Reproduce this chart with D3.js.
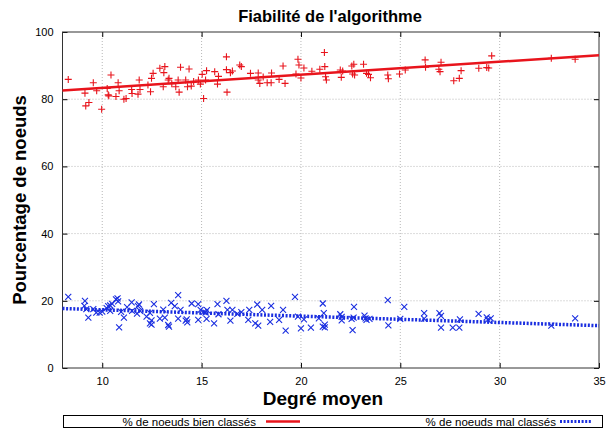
<!DOCTYPE html>
<html>
<head>
<meta charset="utf-8">
<script src="https://cdn.jsdelivr.net/npm/d3@7"></script>
<style>
  body { margin: 0; background: #fff; }
  svg { display: block; font-family: "Liberation Sans", Arial, sans-serif; }
</style>
</head>
<body>
<svg id="chart" width="607" height="431"></svg>
<script>
// degree (x) / percentage (y)
const bienX = [8.29, 9.13, 9.33, 9.17, 9.55, 9.72, 9.97, 10.44, 10.25, 10.3, 10.33, 10.69, 10.8, 10.85, 11.09, 11.2, 11.48, 11.5, 11.86, 11.9,
  11.8, 12.3, 12.48, 12.56, 12.43, 12.9, 13.15, 13.1, 13.07, 13.32, 13.36, 13.5, 13.7, 13.82, 13.87, 13.94, 14.2, 14.29, 14.37, 14.48,
  14.6, 14.84, 14.94, 15.03, 15.2, 15.1, 15.25, 15.66, 15.85, 15.8, 16.25, 16.25, 16.28, 16.45, 16.55, 16.92, 17.0, 17.46, 17.85, 17.85,
  17.93, 18.1, 18.3, 18.52, 18.5, 18.9, 19.1, 19.2, 19.85, 19.9, 19.75, 20.0, 20.15, 20.55, 20.95, 21.18, 21.2, 21.24, 21.28, 21.98,
  22.1, 22.03, 22.56, 22.66, 22.6, 22.7, 23.15, 23.3, 23.4, 23.5, 24.37, 24.4, 24.96, 25.25, 26.25, 26.27, 26.94, 27.05, 27.0, 27.69,
  27.97, 28.06, 28.95, 29.35, 29.45, 29.6, 32.6, 33.8];
const bienY = [85.9, 81.8, 79.0, 78.0, 84.9, 82.5, 77.0, 87.2, 83.2, 81.3, 81.0, 80.8, 84.9, 82.5, 80.0, 80.2, 82.9, 81.7, 85.7, 82.9,
  81.5, 84.2, 86.2, 87.7, 82.2, 89.2, 89.7, 87.9, 83.7, 85.7, 86.2, 84.6, 83.7, 85.7, 82.1, 89.5, 85.7, 83.7, 89.0, 83.9,
  85.3, 85.7, 84.5, 87.4, 85.7, 80.2, 88.5, 88.2, 86.8, 84.5, 92.6, 88.8, 82.1, 87.9, 88.4, 90.2, 89.7, 87.7, 87.8, 85.7,
  84.7, 86.6, 84.9, 87.8, 84.9, 85.9, 89.9, 84.7, 91.9, 90.2, 87.5, 86.3, 89.3, 88.3, 88.9, 93.9, 89.7, 86.7, 85.7, 88.7,
  88.4, 86.5, 89.9, 90.4, 87.5, 87.2, 90.4, 87.7, 87.4, 86.4, 87.2, 86.1, 87.5, 88.7, 91.7, 89.5, 88.9, 91.0, 88.2, 85.5,
  86.2, 88.5, 89.2, 89.4, 89.3, 92.9, 92.2, 91.9];

const malX = [8.29, 9.13, 9.1, 9.2, 9.3, 9.55, 9.7, 9.87, 10.0, 10.22, 10.3, 10.4, 10.4, 10.5, 10.69, 10.77, 10.8, 10.85, 10.95, 11.09,
  11.25, 11.48, 11.5, 11.8, 11.85, 11.75, 11.9, 12.23, 12.4, 12.48, 12.4, 12.48, 12.6, 12.9, 13.07, 13.15, 13.32, 13.36, 13.47, 13.65,
  13.82, 13.82, 13.94, 14.2, 14.28, 14.25, 14.5, 14.83, 14.83, 14.95, 15.1, 15.2, 15.25, 15.27, 15.63, 15.8, 15.85, 16.25, 16.3, 16.45,
  16.55, 16.8, 17.0, 17.4, 17.35, 17.7, 17.8, 17.85, 18.05, 18.45, 18.5, 18.9, 19.1, 19.23, 19.7, 19.85, 20.0, 20.15, 20.5, 20.9,
  21.1, 21.1, 21.15, 21.2, 21.2, 21.98, 22.05, 22.05, 22.55, 22.65, 22.6, 22.67, 23.2, 23.25, 23.3, 23.45, 24.37, 24.4, 25.0, 25.2,
  26.2, 26.2, 26.97, 27.05, 27.05, 27.64, 27.97, 28.0, 28.94, 29.35, 29.4, 29.55, 32.6, 33.8];
const malY = [21.2, 20.0, 18.5, 17.5, 15.0, 17.5, 16.5, 16.5, 16.8, 17.8, 18.4, 18.6, 17.0, 19.1, 20.4, 20.7, 19.8, 12.1, 16.7, 15.0,
  18.1, 19.5, 17.0, 18.4, 18.9, 16.2, 17.0, 15.3, 16.4, 14.2, 13.3, 12.9, 19.0, 14.7, 17.4, 15.0, 12.8, 12.3, 19.4, 18.4,
  21.7, 14.7, 17.3, 14.1, 13.6, 14.5, 19.2, 19.0, 14.3, 17.3, 16.7, 16.5, 14.6, 17.2, 13.3, 19.0, 16.0, 20.0, 17.3, 14.1,
  17.3, 16.1, 16.6, 17.3, 14.3, 13.3, 18.9, 12.6, 17.3, 13.7, 18.5, 14.3, 17.3, 11.1, 21.2, 15.3, 11.8, 14.5, 12.0, 14.8,
  19.2, 12.3, 16.3, 12.9, 12.1, 16.0, 15.2, 14.2, 14.6, 15.0, 11.3, 18.2, 15.6, 14.8, 14.3, 14.6, 20.2, 12.7, 14.6, 18.2,
  16.3, 14.7, 16.3, 15.5, 12.0, 12.0, 12.0, 14.5, 16.1, 15.1, 14.3, 14.8, 12.6, 14.8];

// fitted lines, values at both ends of the x range
const fitX = [8, 35];
const bienFit = [82.6, 93.1];
const malFit = [17.7, 12.6];

const xTicks = [10, 15, 20, 25, 30, 35];
const yTicks = [0, 20, 40, 60, 80, 100];

const svg = d3.select("#chart");
const pLeft = 62.5, pRight = 599, pTop = 32, pBottom = 368;

const x = d3.scaleLinear().domain([8, 35]).range([pLeft, pRight]);
const y = d3.scaleLinear().domain([0, 100]).range([pBottom, pTop]);

// grid
const grid = svg.append("g").attr("stroke", "#b8b8b8").attr("stroke-dasharray", "1,2").attr("stroke-width", 1);
xTicks.filter(d => d < 35).forEach(d => {
  grid.append("line").attr("x1", x(d)).attr("x2", x(d)).attr("y1", pTop).attr("y2", pBottom);
});
yTicks.filter(d => d > 0 && d < 100).forEach(d => {
  grid.append("line").attr("x1", pLeft).attr("x2", pRight).attr("y1", y(d)).attr("y2", y(d));
});

// axes, ticks pointing inwards
svg.append("g")
  .attr("transform", `translate(0,${pBottom})`)
  .call(d3.axisBottom(x).tickValues(xTicks).tickSize(-5).tickPadding(9))
  .call(g => g.select(".domain").remove());
svg.append("g")
  .attr("transform", `translate(0,${pTop})`)
  .call(d3.axisTop(x).tickValues(xTicks).tickSize(-5).tickFormat(""))
  .call(g => g.select(".domain").remove());
svg.append("g")
  .attr("transform", `translate(${pLeft},0)`)
  .call(d3.axisLeft(y).tickValues(yTicks).tickSize(-5).tickPadding(9))
  .call(g => g.select(".domain").remove());
svg.append("g")
  .attr("transform", `translate(${pRight},0)`)
  .call(d3.axisRight(y).tickValues(yTicks).tickSize(-5).tickFormat(""))
  .call(g => g.select(".domain").remove());

svg.selectAll(".tick text").attr("font-size", 11).attr("font-family", "Liberation Sans, Arial, sans-serif").attr("fill", "#000");
svg.selectAll(".tick line").attr("stroke", "#000");

svg.append("rect")
  .attr("x", pLeft).attr("y", pTop)
  .attr("width", pRight - pLeft).attr("height", pBottom - pTop)
  .attr("fill", "none").attr("stroke", "#333").attr("stroke-width", 1);

// points
const red = "#e8141c", blue = "#1a2ee0";
const bien = bienX.map((d, i) => [d, bienY[i]]);
const mal = malX.map((d, i) => [d, malY[i]]);

svg.append("g").selectAll("path").data(bien).join("path")
  .attr("d", d => `M${x(d[0]) - 3.5},${y(d[1])}h7M${x(d[0])},${y(d[1]) - 3.5}v7`)
  .attr("stroke", red).attr("stroke-width", 1.1).attr("fill", "none");

svg.append("g").selectAll("path").data(mal).join("path")
  .attr("d", d => `M${x(d[0]) - 3},${y(d[1]) - 3}l6,6M${x(d[0]) - 3},${y(d[1]) + 3}l6,-6`)
  .attr("stroke", blue).attr("stroke-width", 1.1).attr("fill", "none");

// fit lines
const line = d3.line().x(d => x(d[0])).y(d => y(d[1]));
svg.append("path")
  .datum(fitX.map((d, i) => [d, bienFit[i]]))
  .attr("d", line).attr("stroke", red).attr("stroke-width", 2.5).attr("fill", "none");
svg.append("path")
  .datum(fitX.map((d, i) => [d, malFit[i]]))
  .attr("d", line).attr("stroke", blue).attr("stroke-width", 3.5)
  .attr("stroke-dasharray", "2,1.6").attr("fill", "none");

// titles
svg.append("text").attr("x", 330).attr("y", 22).attr("text-anchor", "middle")
  .attr("font-size", 16.5).attr("font-weight", "bold").text("Fiabilité de l'algorithme");
svg.append("text").attr("x", 323).attr("y", 405).attr("text-anchor", "middle")
  .attr("font-size", 19).attr("font-weight", "bold").text("Degré moyen");
svg.append("text").attr("transform", "translate(26,200) rotate(-90)").attr("text-anchor", "middle")
  .attr("font-size", 18.5).attr("font-weight", "bold").text("Pourcentage de noeuds");

// legend
const leg = svg.append("g");
leg.append("rect").attr("x", 63.5).attr("y", 415.5).attr("width", 539).attr("height", 12)
  .attr("fill", "#fff").attr("stroke", "#000").attr("stroke-width", 1);
leg.append("text").attr("x", 256).attr("y", 425.5).attr("text-anchor", "end").attr("font-size", 11.5)
  .text("% de noeuds bien classés");
leg.append("line").attr("x1", 266).attr("x2", 300).attr("y1", 421.5).attr("y2", 421.5)
  .attr("stroke", red).attr("stroke-width", 2.5);
leg.append("text").attr("x", 556).attr("y", 425.5).attr("text-anchor", "end").attr("font-size", 11.5)
  .text("% de noeuds mal classés");
leg.append("line").attr("x1", 560).attr("x2", 592).attr("y1", 421.5).attr("y2", 421.5)
  .attr("stroke", blue).attr("stroke-width", 3).attr("stroke-dasharray", "2,1.6");
</script>
</body>
</html>
